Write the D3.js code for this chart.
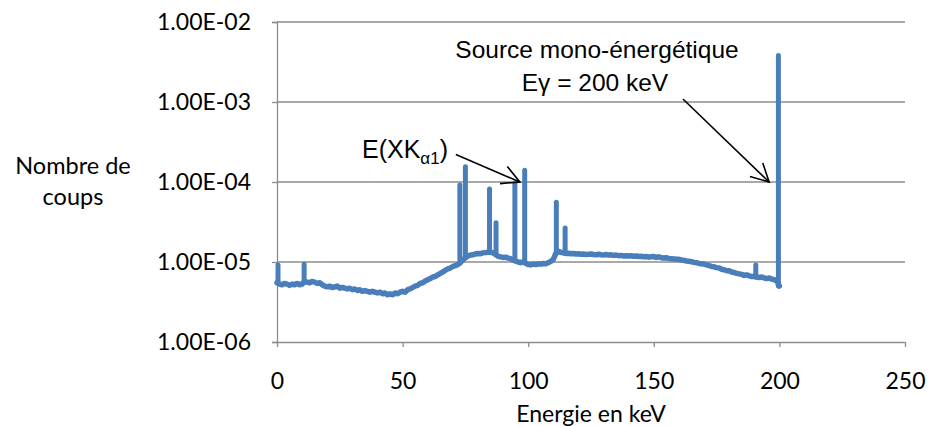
<!DOCTYPE html>
<html><head><meta charset="utf-8">
<script src="https://cdn.jsdelivr.net/npm/d3@7"></script>
<style>body{margin:0;background:#fff}svg{display:block}</style>
</head><body><svg id="c" width="928" height="427"></svg>
<script>
// ---- data ----
const xTicks = [0, 50, 100, 150, 200, 250];
const yTicks = [1e-6, 1e-5, 1e-4, 1e-3, 1e-2];
const yTickLabels = ["1.00E-06", "1.00E-05", "1.00E-04", "1.00E-03", "1.00E-02"];
// background counts (x 1e-6) per 1 keV channel, 0..200 keV
const backgroundE6 = [
  5.5, 5.3, 5.2, 5.4, 5.3, 5.1, 5.3, 5.2, 5.4, 5.2,
  5.3, 5.7, 5.6, 5.5, 5.7, 5.6, 5.4, 5.5, 5.2, 5.0,
  4.9, 5.0, 4.8, 4.9, 5.0, 4.7, 4.8, 4.7, 4.6, 4.7,
  4.5, 4.6, 4.4, 4.5, 4.3, 4.4, 4.3, 4.2, 4.3, 4.2,
  4.1, 4.2, 4.0, 4.1, 3.9, 4.0, 3.9, 4.1, 4.0, 4.2,
  4.3, 4.2, 4.5, 4.6, 4.8, 5.0, 5.1, 5.4, 5.5, 5.8,
  6.0, 6.2, 6.5, 6.6, 6.9, 7.2, 7.5, 7.9, 8.2, 8.4,
  8.8, 9.0, 9.3, 9.8, 10.6, 11.3, 11.9, 12.2, 12.3, 12.6,
  12.8, 12.7, 13.0, 13.1, 13.2, 13.3, 13.0, 12.4, 11.8, 11.6,
  11.4, 11.5, 11.2, 11.0, 10.6, 10.3, 10.0, 9.8, 10.0, 9.7,
  9.3, 9.2, 9.4, 9.3, 9.5, 9.4, 9.6, 9.5, 9.8, 10.2,
  10.8, 12.8, 13.6, 13.2, 13.0, 12.8, 12.9, 12.7, 12.8, 12.6,
  12.7, 12.5, 12.6, 12.4, 12.5, 12.6, 12.4, 12.3, 12.5, 12.3,
  12.2, 12.4, 12.2, 12.3, 12.1, 12.2, 12.0, 12.1, 11.9, 12.0,
  11.9, 12.0, 11.8, 11.9, 11.7, 11.8, 11.6, 11.7, 11.5, 11.6,
  11.7, 11.4, 11.6, 11.3, 11.2, 11.3, 11.1, 11.0, 10.9, 10.8,
  10.8, 10.6, 10.5, 10.3, 10.2, 10.1, 9.9, 9.8, 9.6, 9.5,
  9.4, 9.2, 9.0, 8.8, 8.7, 8.5, 8.4, 8.1, 8.0, 7.8,
  7.8, 7.5, 7.4, 7.2, 7.1, 7.0, 6.8, 6.9, 6.7, 6.6,
  6.6, 6.5, 6.4, 6.5, 6.3, 6.2, 6.3, 6.1, 6.0, 5.8,
  5.0
];
const peakEnergy = [0.4, 10.8, 72.8, 75.0, 84.6, 87.2, 94.7, 98.6, 111.2, 114.7, 190.6, 199.6];
const peakCounts = [9.2e-6, 9.4e-6, 9.2e-5, 1.55e-4, 8.2e-5, 3.1e-5, 9.7e-5, 1.4e-4, 5.6e-5, 2.66e-5, 9.2e-6, 3.8e-3];

// ---- chart ----
const svg = d3.select("#c");
const blue = "#4a7ebb", grid = "#8c8c8c";
const calibri = "Lato, 'Open Sans', sans-serif";
const arial = "'Liberation Sans', Arial, sans-serif";

const x = d3.scaleLinear().domain([0, 250]).range([277, 905]);
const y = d3.scaleLog().domain([1e-6, 1e-2]).range([342, 22]);

// gridlines
svg.append("g").selectAll("line").data(yTicks.slice(1)).join("line")
  .attr("x1", x(0)).attr("x2", x(250))
  .attr("y1", d => y(d)).attr("y2", d => y(d))
  .attr("stroke", grid).attr("stroke-width", 1.3);

// y axis
const yAxis = svg.append("g").attr("transform", `translate(${x(0)},0)`)
  .call(d3.axisLeft(y).tickValues(yTicks).tickSize(5).tickFormat((d, i) => yTickLabels[i]));
yAxis.select(".domain").attr("stroke", grid).attr("stroke-width", 1.3);
yAxis.selectAll(".tick line").attr("stroke", grid).attr("stroke-width", 1.3);
yAxis.selectAll(".tick text").attr("x", -26).attr("font-family", calibri)
  .attr("font-size", 23).attr("fill", "#000");

// x axis
const xAxis = svg.append("g").attr("transform", `translate(0,${y(1e-6)})`)
  .call(d3.axisBottom(x).tickValues(xTicks).tickSize(5).tickSizeOuter(0));
xAxis.select(".domain").attr("stroke", grid).attr("stroke-width", 1.3);
xAxis.selectAll(".tick line").attr("stroke", grid).attr("stroke-width", 1.3);
xAxis.selectAll(".tick text").attr("y", 31).attr("dy", "0.71em").attr("font-family", calibri)
  .attr("font-size", 23).attr("fill", "#000");

// series
const channels = d3.range(backgroundE6.length);
const line = d3.line().x(i => x(i)).y(i => y(backgroundE6[i] * 1e-6));
svg.append("path").datum(channels).attr("d", line)
  .attr("fill", "none").attr("stroke", blue).attr("stroke-width", 5.5)
  .attr("stroke-linejoin", "round").attr("stroke-linecap", "round");

svg.append("g").selectAll("line").data(peakEnergy).join("line")
  .attr("x1", d => x(d)).attr("x2", d => x(d))
  .attr("y1", d => y(backgroundE6[Math.round(d)] * 1e-6))
  .attr("y2", (d, i) => y(peakCounts[i]))
  .attr("stroke", blue).attr("stroke-width", 5).attr("stroke-linecap", "round");

// axis titles
svg.append("text").attr("x", x(125)).attr("y", 422).attr("text-anchor", "middle")
  .attr("font-family", calibri).attr("font-size", 23).text("Energie en keV");
const yt = svg.append("text").attr("text-anchor", "middle")
  .attr("font-family", calibri).attr("font-size", 23.5);
yt.append("tspan").attr("x", 73).attr("y", 174).text("Nombre de");
yt.append("tspan").attr("x", 73).attr("y", 205).text("coups");

// annotations
svg.append("text").attr("x", 597).attr("y", 58).attr("text-anchor", "middle")
  .attr("font-family", arial).attr("font-size", 24.5).text("Source mono-énergétique");
svg.append("text").attr("x", 595).attr("y", 91).attr("text-anchor", "middle")
  .attr("font-family", arial).attr("font-size", 24.5).text("Eγ = 200 keV");
const ek = svg.append("text").attr("x", 362).attr("y", 158)
  .attr("font-family", arial).attr("font-size", 25);
ek.append("tspan").text("E(XK");
ek.append("tspan").attr("font-size", 17).attr("dy", 6).text("α1");
ek.append("tspan").attr("dy", -6).text(")");

function arrow(x1, y1, x2, y2) {
  const a = Math.atan2(y2 - y1, x2 - x1), L = 20, h = Math.PI / 6.5;
  const g = svg.append("g").attr("stroke", "#000").attr("stroke-width", 1.6).attr("fill", "none");
  g.append("line").attr("x1", x1).attr("y1", y1).attr("x2", x2).attr("y2", y2);
  g.append("path").attr("d",
    `M${x2 - L * Math.cos(a - h)},${y2 - L * Math.sin(a - h)}L${x2},${y2}L${x2 - L * Math.cos(a + h)},${y2 - L * Math.sin(a + h)}`);
}
arrow(x(71.2), y(2.2e-4), x(96.7), y(1e-4));
arrow(x(161.6), y(1.09e-3), x(195.9), y(1e-4));
</script></body></html>
